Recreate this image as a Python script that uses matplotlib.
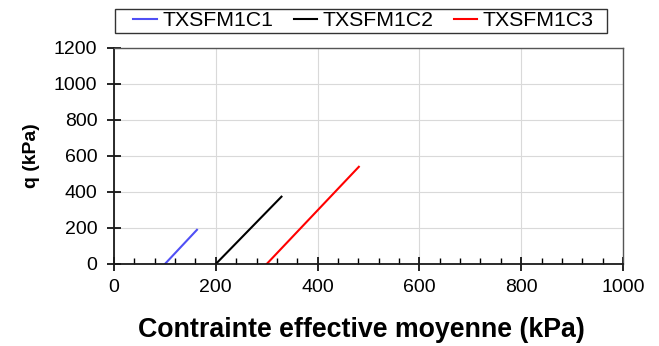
import matplotlib
matplotlib.use("Agg")
import matplotlib.pyplot as plt
from matplotlib.ticker import MultipleLocator
from matplotlib.patches import Rectangle

plt.rcParams['font.family'] = ['Liberation Sans', 'DejaVu Sans']

labels = ["TXSFM1C1", "TXSFM1C2", "TXSFM1C3"]
p1 = [100, 163]
q1 = [0, 190]
p2 = [200, 329]
q2 = [0, 374]
p3 = [300, 481]
q3 = [0, 540]
colors = ["#4f4ff5", "#000000", "#ff0000"]

W, H = 659, 346
fig = plt.figure(figsize=(W / 100, H / 100), dpi=100)
ax = fig.add_axes([114 / W, 1 - 264 / H, (623 - 114) / W, (264 - 48) / H])

for p, q, lab, c in zip([p1, p2, p3], [q1, q2, q3], labels, colors):
    ax.plot(p, q, color=c, lw=1.5, label=lab)

ax.set_xlim(0, 1000)
ax.set_ylim(0, 1200)
ax.xaxis.set_major_locator(MultipleLocator(200))
ax.xaxis.set_minor_locator(MultipleLocator(40))
ax.yaxis.set_major_locator(MultipleLocator(200))
ax.grid(True, which='major', color='#d9d9d9', lw=0.8)
ax.set_axisbelow(True)

ax.tick_params(axis='both', which='major', direction='inout', length=10, width=1.2,
               labelsize=14, colors='black')
ax.tick_params(axis='x', which='major', pad=6)
ax.tick_params(axis='y', which='major', pad=7)
ax.tick_params(axis='x', which='minor', direction='in', length=4, width=1.0)
ax.tick_params(axis='y', which='minor', left=False)

for s in ['left', 'bottom']:
    ax.spines[s].set_color('#1a1a1a')
    ax.spines[s].set_linewidth(1.3)
for s in ['top', 'right']:
    ax.spines[s].set_color('#555555')
    ax.spines[s].set_linewidth(1.0)

ax.set_xlabel("Contrainte effective moyenne (kPa)", fontsize=19.3, fontweight='bold',
              labelpad=15, x=(361.5 - 114) / 509)
ax.set_ylabel("q (kPa)", fontsize=14, fontweight='bold', labelpad=10)

leg = ax.legend(loc='center', bbox_to_anchor=((363.5 - 114) / 509, 1 + (48 - 21) / 216), ncol=3,
                fontsize=15.3, frameon=False,
                handlelength=1.1, handletextpad=0.25, columnspacing=0.97,
                borderpad=0.0, borderaxespad=0)
fig.patches.append(Rectangle((115 / W, 1 - 33 / H), (607 - 115) / W, 24 / H,
                             transform=fig.transFigure, fill=False,
                             edgecolor='#333333', lw=1.0))

fig.savefig("out.png", dpi=100)
